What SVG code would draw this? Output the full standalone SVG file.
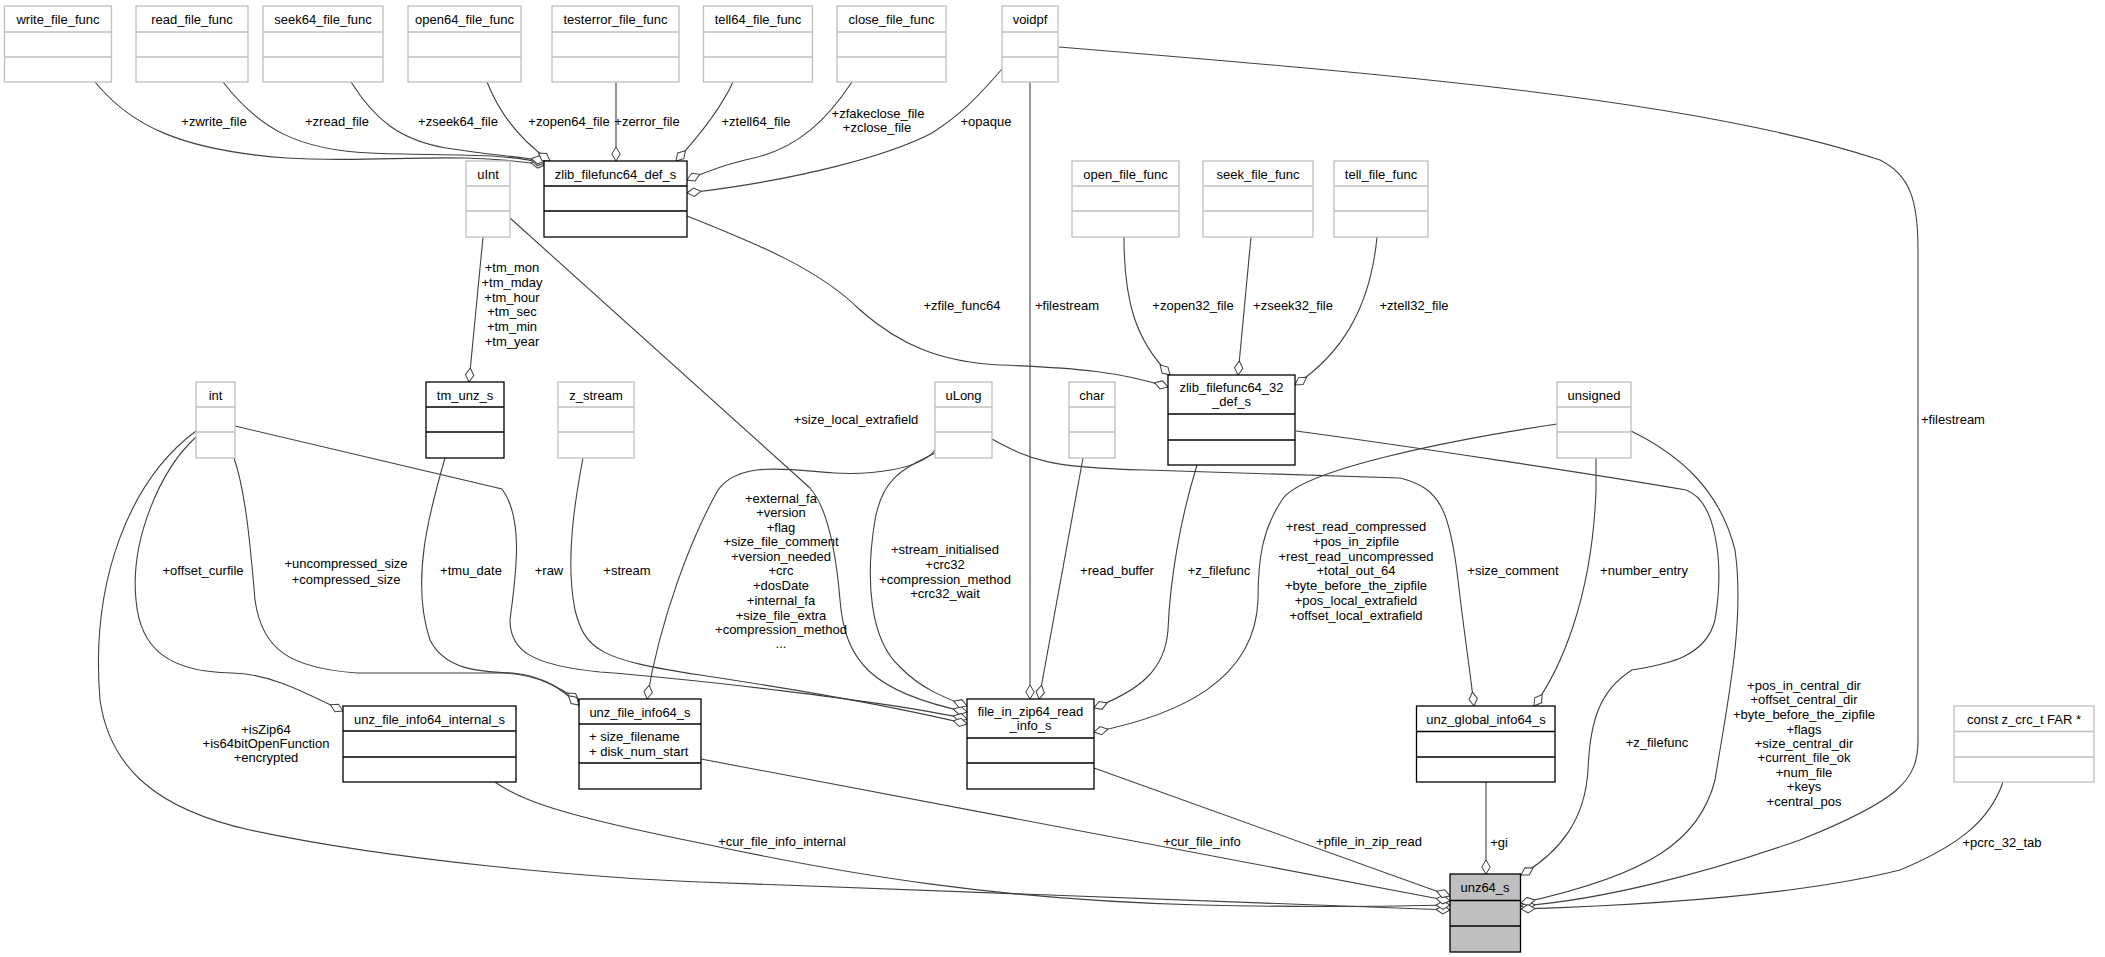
<svg xmlns="http://www.w3.org/2000/svg" width="2105" height="957" viewBox="0 0 2105 957">
<style>
text{font-family:"Liberation Sans",Arial,sans-serif;font-size:13px;fill:#000}
.m{text-anchor:middle}
.g rect{fill:#fff;stroke:#bfbfbf;stroke-width:1.3}
.g line{stroke:#bfbfbf;stroke-width:1.3}
.b rect{fill:#fff;stroke:#000;stroke-width:1.3}
.b line{stroke:#000;stroke-width:1.3}
.r rect{fill:#bfbfbf;stroke:#000;stroke-width:1.3}
.r line{stroke:#000;stroke-width:1.3}
.e path{fill:none;stroke:#404040;stroke-width:1.1;marker-end:url(#d)}
</style>
<defs>
<marker id="d" markerUnits="userSpaceOnUse" markerWidth="16" markerHeight="10" refX="15" refY="5" orient="auto" viewBox="0 0 16 10" overflow="visible"><path d="M1,5 L8,0.8 L15,5 L8,9.2 Z" fill="#fff" stroke="#404040" stroke-width="1"/></marker>
</defs>
<rect width="2105" height="957" fill="#fff"/>

<g id="connectors" class="e">
<path d="M95,82 C130,125 180,150 286,158 C380,164 450,150 545,165"/>
<path d="M223,82 C260,130 300,150 370,153 C440,156 495,152 545,163"/>
<path d="M351,82 C375,120 400,140 446,148 C490,155 515,156 545,161"/>
<path d="M487,82 C500,115 520,140 550,161"/>
<path d="M616,82 L616,161"/>
<path d="M733,82 C720,110 700,135 676,161"/>
<path d="M852,82 C830,115 800,150 745,160 C725,165 705,172 687,180"/>
<path d="M1002,69 C975,100 960,115 932,133 C890,155 800,180 687,193"/>
<path d="M1059,47 C1400,75 1700,100 1880,160 C1910,175 1918,200 1918,250 L1918,740 C1918,780 1900,800 1800,840 C1700,875 1600,900 1521,906"/>
<path d="M1030,82 L1030,699"/>
<path d="M687,216 C760,245 820,270 860,310 C900,345 940,362 1000,365 C1080,368 1120,372 1168,387"/>
<path d="M1124,237 C1124,300 1135,340 1170,375"/>
<path d="M1251,237 L1238,375"/>
<path d="M1377,237 C1370,310 1340,355 1295,385"/>
<path d="M483,237 L469,382"/>
<path d="M510,218 L810,488 C825,505 835,540 840,600 C845,660 870,692 967,712"/>
<path d="M935,453 C900,470 882,480 875,520 C865,580 870,640 900,667 C920,688 945,698 967,706"/>
<path d="M935,450 C920,470 870,475 834,473 C790,470 740,460 718,490 C690,540 660,620 647,699"/>
<path d="M992,439 C1030,460 1050,468 1146,470 L1400,478 C1440,488 1450,510 1458,580 C1465,640 1470,670 1474,706"/>
<path d="M235,426 L502,489 C525,520 515,580 510,620 C510,650 530,665 600,672 C680,678 880,700 967,719"/>
<path d="M583,458 C575,500 565,560 575,610 C585,650 600,660 700,675 C800,690 900,708 967,724"/>
<path d="M234,458 C245,490 250,540 255,600 C262,650 290,668 357,673 L504,673 C540,675 560,688 579,701"/>
<path d="M445,458 C430,510 410,580 430,640 C445,670 480,672 513,673 C545,676 562,690 579,705"/>
<path d="M196,437 C160,470 130,540 136,600 C140,650 170,672 232,673 C270,674 300,690 343,711"/>
<path d="M196,431 C130,480 90,580 100,700 C110,770 160,810 250,830 C400,862 600,878 700,882 C1000,895 1300,905 1450,910"/>
<path d="M495,782 C520,800 560,815 700,843 C850,875 1000,900 1200,905 C1330,908 1400,906 1450,905"/>
<path d="M701,759 L1450,901"/>
<path d="M1094,768 L1450,896"/>
<path d="M1486,782 L1486,874"/>
<path d="M1296,431 C1400,445 1600,475 1686,490 C1715,500 1725,560 1715,620 C1705,660 1660,665 1632,670 C1600,690 1590,720 1588,770 C1585,820 1560,852 1521,875"/>
<path d="M1197,465 C1180,520 1170,580 1168,630 C1165,670 1140,690 1094,708"/>
<path d="M1557,424 C1450,440 1300,470 1282,500 C1262,530 1258,560 1258,600 C1255,680 1180,715 1094,732"/>
<path d="M1596,458 L1596,490 C1592,600 1560,670 1534,706"/>
<path d="M1631,431 C1680,455 1720,490 1735,550 C1745,620 1728,700 1715,780 C1700,840 1650,875 1521,903"/>
<path d="M2003,782 C1990,820 1960,845 1900,870 C1800,895 1650,905 1521,909"/>
<path d="M1083,458 L1039,699"/>
</g>

<g id="edge-labels">
<text class="m" x="214" y="126">+zwrite_file</text>
<text class="m" x="337" y="126">+zread_file</text>
<text class="m" x="458" y="126">+zseek64_file</text>
<text class="m" x="569" y="126">+zopen64_file</text>
<text class="m" x="647" y="126">+zerror_file</text>
<text class="m" x="756" y="126">+ztell64_file</text>
<text class="m" x="878" y="118">+zfakeclose_file</text>
<text class="m" x="877" y="132">+zclose_file</text>
<text class="m" x="986" y="126">+opaque</text>
<text x="1921" y="424">+filestream</text>
<text class="m" x="1067" y="310">+filestream</text>
<text class="m" x="1193" y="310">+zopen32_file</text>
<text class="m" x="1293" y="310">+zseek32_file</text>
<text class="m" x="1414" y="310">+ztell32_file</text>
<text class="m" x="962" y="310">+zfile_func64</text>
<text class="m" x="512" y="272">+tm_mon</text>
<text class="m" x="512" y="287">+tm_mday</text>
<text class="m" x="512" y="302">+tm_hour</text>
<text class="m" x="512" y="316">+tm_sec</text>
<text class="m" x="512" y="331">+tm_min</text>
<text class="m" x="512" y="346">+tm_year</text>
<text class="m" x="856" y="424">+size_local_extrafield</text>
<text class="m" x="203" y="575">+offset_curfile</text>
<text class="m" x="346" y="568">+uncompressed_size</text>
<text class="m" x="346" y="584">+compressed_size</text>
<text class="m" x="471" y="575">+tmu_date</text>
<text class="m" x="549" y="575">+raw</text>
<text class="m" x="627" y="575">+stream</text>
<text class="m" x="781" y="503">+external_fa</text>
<text class="m" x="781" y="517">+version</text>
<text class="m" x="781" y="532">+flag</text>
<text class="m" x="781" y="546">+size_file_comment</text>
<text class="m" x="781" y="561">+version_needed</text>
<text class="m" x="781" y="575">+crc</text>
<text class="m" x="781" y="590">+dosDate</text>
<text class="m" x="781" y="605">+internal_fa</text>
<text class="m" x="781" y="620">+size_file_extra</text>
<text class="m" x="781" y="634">+compression_method</text>
<text class="m" x="781" y="648">...</text>
<text class="m" x="945" y="554">+stream_initialised</text>
<text class="m" x="945" y="569">+crc32</text>
<text class="m" x="945" y="584">+compression_method</text>
<text class="m" x="945" y="598">+crc32_wait</text>
<text class="m" x="1117" y="575">+read_buffer</text>
<text class="m" x="1219" y="575">+z_filefunc</text>
<text class="m" x="1356" y="531">+rest_read_compressed</text>
<text class="m" x="1356" y="546">+pos_in_zipfile</text>
<text class="m" x="1356" y="561">+rest_read_uncompressed</text>
<text class="m" x="1356" y="575">+total_out_64</text>
<text class="m" x="1356" y="590">+byte_before_the_zipfile</text>
<text class="m" x="1356" y="605">+pos_local_extrafield</text>
<text class="m" x="1356" y="620">+offset_local_extrafield</text>
<text class="m" x="1513" y="575">+size_comment</text>
<text class="m" x="1644" y="575">+number_entry</text>
<text class="m" x="266" y="734">+isZip64</text>
<text class="m" x="266" y="748">+is64bitOpenFunction</text>
<text class="m" x="266" y="762">+encrypted</text>
<text class="m" x="782" y="846">+cur_file_info_internal</text>
<text class="m" x="1202" y="846">+cur_file_info</text>
<text class="m" x="1369" y="846">+pfile_in_zip_read</text>
<text class="m" x="1499" y="847">+gi</text>
<text class="m" x="1657" y="747">+z_filefunc</text>
<text class="m" x="1804" y="690">+pos_in_central_dir</text>
<text class="m" x="1804" y="704">+offset_central_dir</text>
<text class="m" x="1804" y="719">+byte_before_the_zipfile</text>
<text class="m" x="1804" y="734">+flags</text>
<text class="m" x="1804" y="748">+size_central_dir</text>
<text class="m" x="1804" y="762">+current_file_ok</text>
<text class="m" x="1804" y="777">+num_file</text>
<text class="m" x="1804" y="791">+keys</text>
<text class="m" x="1804" y="806">+central_pos</text>
<text class="m" x="2002" y="847">+pcrc_32_tab</text>
</g>

<g id="write_file_func" class="g"><rect x="4.5" y="6" width="107" height="76"/><line x1="4.5" y1="32" x2="111.5" y2="32"/><line x1="4.5" y1="57" x2="111.5" y2="57"/><text class="m" x="58" y="24">write_file_func</text></g>
<g id="read_file_func" class="g"><rect x="136" y="6" width="112" height="76"/><line x1="136" y1="32" x2="248" y2="32"/><line x1="136" y1="57" x2="248" y2="57"/><text class="m" x="192" y="24">read_file_func</text></g>
<g id="seek64_file_func" class="g"><rect x="263" y="6" width="120" height="76"/><line x1="263" y1="32" x2="383" y2="32"/><line x1="263" y1="57" x2="383" y2="57"/><text class="m" x="323" y="24">seek64_file_func</text></g>
<g id="open64_file_func" class="g"><rect x="408" y="6" width="113" height="76"/><line x1="408" y1="32" x2="521" y2="32"/><line x1="408" y1="57" x2="521" y2="57"/><text class="m" x="464.5" y="24">open64_file_func</text></g>
<g id="testerror_file_func" class="g"><rect x="552" y="6" width="127" height="76"/><line x1="552" y1="32" x2="679" y2="32"/><line x1="552" y1="57" x2="679" y2="57"/><text class="m" x="615.5" y="24">testerror_file_func</text></g>
<g id="tell64_file_func" class="g"><rect x="703.5" y="6" width="109" height="76"/><line x1="703.5" y1="32" x2="812.5" y2="32"/><line x1="703.5" y1="57" x2="812.5" y2="57"/><text class="m" x="758" y="24">tell64_file_func</text></g>
<g id="close_file_func" class="g"><rect x="837" y="6" width="109" height="76"/><line x1="837" y1="32" x2="946" y2="32"/><line x1="837" y1="57" x2="946" y2="57"/><text class="m" x="891.5" y="24">close_file_func</text></g>
<g id="voidpf" class="g"><rect x="1002" y="6" width="56" height="76"/><line x1="1002" y1="32" x2="1058" y2="32"/><line x1="1002" y1="57" x2="1058" y2="57"/><text class="m" x="1030" y="24">voidpf</text></g>

<g id="zlib_filefunc64_def_s" class="b"><rect x="544" y="161" width="143" height="76"/><line x1="544" y1="186" x2="687" y2="186"/><line x1="544" y1="211" x2="687" y2="211"/><text class="m" x="615.5" y="178.5">zlib_filefunc64_def_s</text></g>
<g id="uInt" class="g"><rect x="466" y="161" width="44" height="76"/><line x1="466" y1="186" x2="510" y2="186"/><line x1="466" y1="211" x2="510" y2="211"/><text class="m" x="488" y="178.5">uInt</text></g>
<g id="open_file_func" class="g"><rect x="1072" y="161" width="107" height="76"/><line x1="1072" y1="186" x2="1179" y2="186"/><line x1="1072" y1="211" x2="1179" y2="211"/><text class="m" x="1125.5" y="178.5">open_file_func</text></g>
<g id="seek_file_func" class="g"><rect x="1203" y="161" width="110" height="76"/><line x1="1203" y1="186" x2="1313" y2="186"/><line x1="1203" y1="211" x2="1313" y2="211"/><text class="m" x="1258" y="178.5">seek_file_func</text></g>
<g id="tell_file_func" class="g"><rect x="1334" y="161" width="94" height="76"/><line x1="1334" y1="186" x2="1428" y2="186"/><line x1="1334" y1="211" x2="1428" y2="211"/><text class="m" x="1381" y="178.5">tell_file_func</text></g>

<g id="int" class="g"><rect x="196" y="382" width="39" height="76"/><line x1="196" y1="407" x2="235" y2="407"/><line x1="196" y1="432" x2="235" y2="432"/><text class="m" x="215.5" y="399.5">int</text></g>
<g id="tm_unz_s" class="b"><rect x="426" y="382" width="78" height="76"/><line x1="426" y1="407" x2="504" y2="407"/><line x1="426" y1="432" x2="504" y2="432"/><text class="m" x="465" y="399.5">tm_unz_s</text></g>
<g id="z_stream" class="g"><rect x="558" y="382" width="76" height="76"/><line x1="558" y1="407" x2="634" y2="407"/><line x1="558" y1="432" x2="634" y2="432"/><text class="m" x="596" y="399.5">z_stream</text></g>
<g id="uLong" class="g"><rect x="935" y="382" width="57" height="76"/><line x1="935" y1="407" x2="992" y2="407"/><line x1="935" y1="432" x2="992" y2="432"/><text class="m" x="963.5" y="399.5">uLong</text></g>
<g id="char" class="g"><rect x="1069" y="382" width="46" height="76"/><line x1="1069" y1="407" x2="1115" y2="407"/><line x1="1069" y1="432" x2="1115" y2="432"/><text class="m" x="1092" y="399.5">char</text></g>
<g id="unsigned" class="g"><rect x="1557" y="382" width="74" height="76"/><line x1="1557" y1="407" x2="1631" y2="407"/><line x1="1557" y1="432" x2="1631" y2="432"/><text class="m" x="1594" y="399.5">unsigned</text></g>
<g id="zlib_filefunc64_32_def_s" class="b"><rect x="1168" y="375" width="127" height="90"/><line x1="1168" y1="414" x2="1295" y2="414"/><line x1="1168" y1="440" x2="1295" y2="440"/><text class="m" x="1231.5" y="391.5">zlib_filefunc64_32</text><text class="m" x="1231.5" y="406">_def_s</text></g>

<g id="unz_file_info64_internal_s" class="b"><rect x="343" y="706" width="173" height="76"/><line x1="343" y1="731" x2="516" y2="731"/><line x1="343" y1="757" x2="516" y2="757"/><text class="m" x="429.5" y="723.5">unz_file_info64_internal_s</text></g>
<g id="unz_file_info64_s" class="b"><rect x="579" y="699" width="122" height="90"/><line x1="579" y1="724" x2="701" y2="724"/><line x1="579" y1="763" x2="701" y2="763"/><text class="m" x="640" y="716.5">unz_file_info64_s</text><text x="589" y="740.5">+ size_filename</text><text x="589" y="755.5">+ disk_num_start</text></g>
<g id="file_in_zip64_read_info_s" class="b"><rect x="967" y="699" width="127" height="90"/><line x1="967" y1="738" x2="1094" y2="738"/><line x1="967" y1="763" x2="1094" y2="763"/><text class="m" x="1030.5" y="715.5">file_in_zip64_read</text><text class="m" x="1030.5" y="730">_info_s</text></g>
<g id="unz_global_info64_s" class="b"><rect x="1416.5" y="706" width="138.5" height="76"/><line x1="1416.5" y1="731.5" x2="1555" y2="731.5"/><line x1="1416.5" y1="757" x2="1555" y2="757"/><text class="m" x="1486" y="723.5">unz_global_info64_s</text></g>
<g id="const_z_crc_t_FAR" class="g"><rect x="1954" y="706" width="140" height="76"/><line x1="1954" y1="731.5" x2="2094" y2="731.5"/><line x1="1954" y1="757" x2="2094" y2="757"/><text class="m" x="2024" y="723.5">const z_crc_t FAR *</text></g>
<g id="unz64_s" class="r"><rect x="1450" y="874" width="70.5" height="78"/><line x1="1450" y1="900.5" x2="1520.5" y2="900.5"/><line x1="1450" y1="926" x2="1520.5" y2="926"/><text class="m" x="1485" y="891.5">unz64_s</text></g>
</svg>
